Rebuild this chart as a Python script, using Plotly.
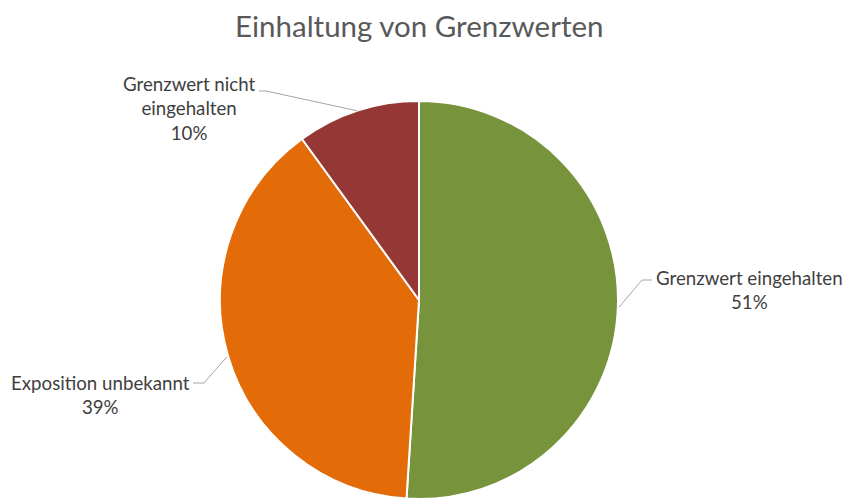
import math
import plotly.graph_objects as go

# Anteile der Kategorien (Prozent)
categories = ["Grenzwert eingehalten", "Exposition unbekannt", "Grenzwert nicht eingehalten"]
label_text = ["Grenzwert eingehalten", "Exposition unbekannt", "Grenzwert nicht<br>eingehalten"]
values = [51, 39, 10]
colors = ["#77933C", "#E36C09", "#953735"]

W, H = 843, 499
CX, CY, R = 419, 301, 200

# label placement: elbow point, end of leader, text anchor (pixels)
label_layout = [
    dict(elbow=(642, 280), end=(652, 280), pos=(654, 290), xanchor="left"),
    dict(elbow=(204, 383), end=(193, 383), pos=(192, 395), xanchor="right"),
    dict(elbow=(266, 91), end=(259, 91), pos=(257, 108), xanchor="right"),
]


def px(x, y):
    return x / W, 1 - y / H


fig = go.Figure(go.Pie(
    labels=categories,
    values=values,
    sort=False,
    direction="clockwise",
    rotation=0,
    marker=dict(colors=colors, line=dict(color="white", width=2)),
    textinfo="none",
    hoverinfo="label+percent",
    showlegend=False,
    domain=dict(x=[(CX - R) / W, (CX + R) / W], y=[max(0, 1 - (CY + R) / H), 1 - (CY - R) / H]),
))

total = sum(values)
shapes, annotations = [], []
cum = 0
for name, txt, v, lay in zip(categories, label_text, values, label_layout):
    mid = (cum + v / 2) / total * 2 * math.pi
    cum += v
    ex, ey = CX + R * math.sin(mid), CY - R * math.cos(mid)
    p0, p1, p2 = px(ex, ey), px(*lay["elbow"]), px(*lay["end"])
    shapes.append(dict(
        type="path", xref="paper", yref="paper",
        path=f"M {p0[0]} {p0[1]} L {p1[0]} {p1[1]} L {p2[0]} {p2[1]}",
        line=dict(color="#A6A6A6", width=1),
    ))
    ax, ay = px(*lay["pos"])
    pct = round(v / total * 100)
    annotations.append(dict(
        x=ax, y=ay, xref="paper", yref="paper",
        xanchor=lay["xanchor"], yanchor="middle",
        text=f"{txt}<br>{pct}%", showarrow=False, align="center",
        font=dict(family="Lato", size=18.7, color="#404040"),
    ))

annotations.append(dict(
    x=px(419, 0)[0], y=px(0, 25)[1], xref="paper", yref="paper",
    xanchor="center", yanchor="middle", showarrow=False,
    text="Einhaltung von Grenzwerten",
    font=dict(family="Lato", size=29.5, color="#595959"),
))

fig.update_layout(
    width=W, height=H,
    margin=dict(l=0, r=0, t=0, b=0),
    paper_bgcolor="white",
    plot_bgcolor="white",
    shapes=shapes,
    annotations=annotations,
)

fig.write_html("out.html")
